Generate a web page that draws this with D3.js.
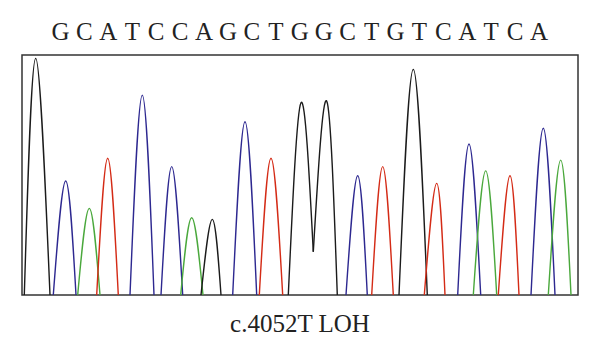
<!DOCTYPE html>
<html>
<head>
<meta charset="utf-8">
<script src="https://cdn.jsdelivr.net/npm/d3@7"></script>
<style>
  body { margin: 0; background: #fff; }
  svg { display: block; }
  text { font-family: "Liberation Serif", "DejaVu Serif", serif; fill: #222; }
</style>
</head>
<body>
<svg></svg>
<script>
let width = 600;
let height = 353;

// called bases (one per peak)
let bases = 'GCATCCAGCTGGCTGTCATCA'.split('');
// peak apex position (scan units) and signal height
let peakCenter = [13.7, 43.7, 67.3, 85.7, 120.3, 149.7, 169.7, 190.3, 223, 249, 279, 304.7, 335.7, 360.7, 391.3, 414.7, 447, 463.7, 488, 521.3, 538.7];
let peakHeight = [986, 475, 361, 570, 833, 535, 322, 315, 722, 570, 801, 808, 497, 535, 940, 465, 629, 517, 497, 695, 562];
// where each peak leaves / returns to the baseline (or the valley between the two G's)
let peakLeft = [2.3, 31.3, 55.7, 74.7, 108, 139, 158.7, 179, 210.7, 237.3, 266.3, 291.3, 324, 349.7, 377, 402.3, 435.7, 451.3, 476.3, 509, 526.3];
let peakRight = [28, 54, 78, 96.3, 132, 160.7, 181, 199, 234.7, 260.7, 291.3, 315.3, 345.3, 371.3, 405.3, 423, 458.7, 474.7, 497, 533, 549];
let leftLevel = [0, 0, 0, 0, 0, 0, 0, 0, 0, 0, 0, 180, 0, 0, 0, 0, 0, 0, 0, 0, 0];
let rightLevel = [0, 0, 0, 0, 0, 0, 0, 0, 0, 0, 180, 0, 0, 0, 0, 0, 0, 0, 0, 0, 0];

let baseColor = { G: '#1b1b1b', C: '#2d2890', A: '#4aa83c', T: '#d42b16' };

let box = { left: 22, top: 55, right: 578, bottom: 295 };

let svg = d3.select('svg')
    .attr('width', width)
    .attr('height', height);

let x = d3.scaleLinear().domain([0, 556]).range([box.left, box.right]);
let y = d3.scaleLinear().domain([0, 1000]).range([box.bottom, box.top]);

// sequence letters on top
let letterX = d3.scalePoint().domain(d3.range(bases.length)).range([60.5, 539]);
svg.append('g')
    .selectAll('text')
    .data(bases)
    .enter()
    .append('text')
    .attr('x', (d, i) => letterX(i))
    .attr('y', 40)
    .attr('text-anchor', 'middle')
    .style('font-size', '25px')
    .text(d => d);

// frame
svg.append('rect')
    .attr('x', box.left)
    .attr('y', box.top)
    .attr('width', box.right - box.left)
    .attr('height', box.bottom - box.top)
    .attr('fill', 'none')
    .attr('stroke', '#333')
    .attr('stroke-width', 1.5);

let line = d3.line()
    .x(d => x(d[0]))
    .y(d => y(d[1]))
    .curve(d3.curveNatural);

let peaks = bases.map((b, i) => ({
    base: b,
    pts: [[peakLeft[i], leftLevel[i]], [peakCenter[i], peakHeight[i]], [peakRight[i], rightLevel[i]]]
}));

svg.append('g')
    .selectAll('path')
    .data(peaks)
    .enter()
    .append('path')
    .attr('d', d => line(d.pts))
    .attr('fill', 'none')
    .attr('stroke', d => baseColor[d.base])
    .attr('stroke-width', 1.4);

// caption
svg.append('text')
    .attr('x', width / 2)
    .attr('y', 332)
    .attr('text-anchor', 'middle')
    .style('font-size', '25px')
    .text('c.4052T LOH');
</script>
</body>
</html>
